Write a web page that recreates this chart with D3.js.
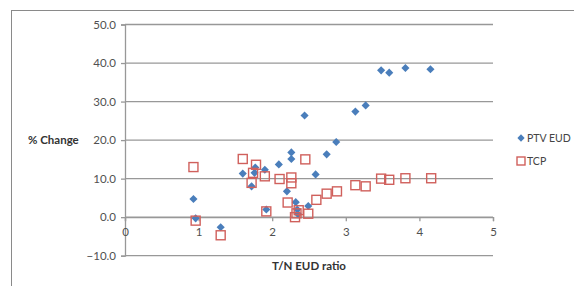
<!DOCTYPE html>
<html>
<head>
<meta charset="utf-8">
<script src="https://cdn.jsdelivr.net/npm/d3@7"></script>
<style>
  body { margin: 0; background: #fff; }
  text { font-family: Lato, "Open Sans", sans-serif; }
</style>
</head>
<body>
<div id="chart"></div>
<script>
// Data
let ptvX = [0.93, 0.96, 1.30, 1.60, 1.72, 1.76, 1.77, 1.90, 1.92, 2.09, 2.20, 2.26, 2.26, 2.32,
  2.34, 2.35, 2.44, 2.49, 2.59, 2.74, 2.87, 3.13, 3.27, 3.48, 3.59, 3.81, 4.15];
let ptvY = [4.7, -0.3, -2.6, 11.3, 8.0, 11.5, 12.9, 12.3, 2.0, 13.7, 6.7, 15.1, 16.8, 3.9,
  2.0, 0.8, 26.4, 2.9, 11.1, 16.3, 19.5, 27.4, 29.0, 38.1, 37.5, 38.7, 38.4];

let tcpX = [0.93, 0.96, 1.30, 1.60, 1.78, 1.74, 1.72, 1.90, 1.92, 2.10, 2.26, 2.26, 2.21, 2.45,
  2.31, 2.33, 2.36, 2.49, 2.60, 2.74, 2.88, 3.13, 3.27, 3.48, 3.59, 3.81, 4.16];
let tcpY = [13.0, -0.9, -4.7, 15.1, 13.6, 11.5, 8.9, 10.6, 1.5, 9.9, 10.3, 8.8, 3.8, 15.0,
  0.0, 1.0, 1.8, 0.9, 4.5, 6.1, 6.7, 8.3, 8.0, 10.0, 9.7, 10.1, 10.1];

let xTicks = [0, 1, 2, 3, 4, 5];
let yTicks = [-10, 0, 10, 20, 30, 40, 50];

let seriesNames = ["PTV EUD", "TCP"];

let svgWidth = 574;
let svgHeight = 286;

let svg = d3.select("#chart")
  .append("svg")
  .attr("width", svgWidth)
  .attr("height", svgHeight);

// outer chart frame (runs past right and bottom edges)
svg.append("rect")
  .attr("x", 11.5)
  .attr("y", 10.5)
  .attr("width", 600)
  .attr("height", 400)
  .attr("fill", "none")
  .attr("stroke", "#8a8a8a");

let xScale = d3.scaleLinear().domain([0, 5]).range([125, 493]);
let yScale = d3.scaleLinear().domain([-10, 50]).range([255.7, 24.5]);

// horizontal gridlines
svg.append("g")
  .selectAll("line")
  .data(yTicks)
  .enter()
  .append("line")
  .attr("x1", xScale(0))
  .attr("x2", xScale(5))
  .attr("y1", d => yScale(d))
  .attr("y2", d => yScale(d))
  .attr("stroke", "#989898")
  .attr("stroke-width", 1.3);

// y axis
let yAxis = svg.append("g")
  .attr("transform", `translate(${xScale(0)},0)`)
  .call(d3.axisLeft(yScale).tickValues(yTicks).tickFormat(d3.format(".1f")).tickSize(4).tickPadding(5));

yAxis.select(".domain").attr("stroke", "#989898").attr("stroke-width", 1.3);
yAxis.selectAll(".tick line").attr("stroke", "#989898").attr("stroke-width", 1.3);
yAxis.selectAll(".tick text")
  .attr("fill", "#505050")
  .attr("font-size", 11.5)
  .style("font-family", "Lato, 'Open Sans', sans-serif");

// x axis sits on y = 0
let xAxis = svg.append("g")
  .attr("transform", `translate(0,${yScale(0)})`)
  .call(d3.axisBottom(xScale).tickValues(xTicks).tickFormat(d3.format("d")).tickSize(4).tickPadding(7));

xAxis.select(".domain").attr("stroke", "#989898").attr("stroke-width", 1.3);
xAxis.selectAll(".tick line").attr("stroke", "#989898").attr("stroke-width", 1.3);
xAxis.selectAll(".tick text")
  .attr("fill", "#505050")
  .attr("font-size", 11.5)
  .style("font-family", "Lato, 'Open Sans', sans-serif");

// axis titles
svg.append("text")
  .attr("x", 28)
  .attr("y", 144)
  .attr("font-size", 11.5)
  .attr("font-weight", "bold")
  .attr("fill", "#333")
  .text("% Change");

svg.append("text")
  .attr("x", 309)
  .attr("y", 270)
  .attr("text-anchor", "middle")
  .attr("font-size", 11.5)
  .attr("font-weight", "bold")
  .attr("fill", "#333")
  .text("T/N EUD ratio");

let ptvData = ptvX.map((x, i) => ({ x: x, y: ptvY[i] }));
let tcpData = tcpX.map((x, i) => ({ x: x, y: tcpY[i] }));

let diamond = d3.symbol().type(d3.symbolDiamond2).size(42);

// PTV EUD diamonds
svg.append("g")
  .selectAll("path")
  .data(ptvData)
  .enter()
  .append("path")
  .attr("d", diamond)
  .attr("transform", d => `translate(${xScale(d.x)},${yScale(d.y)})`)
  .attr("fill", "#4a7ebb");

// TCP squares
let sq = 9;
svg.append("g")
  .selectAll("rect")
  .data(tcpData)
  .enter()
  .append("rect")
  .attr("x", d => xScale(d.x) - sq / 2)
  .attr("y", d => yScale(d.y) - sq / 2)
  .attr("width", sq)
  .attr("height", sq)
  .attr("fill", "none")
  .attr("stroke", "#d0605c")
  .attr("stroke-width", 1.4);

// legend
let legend = svg.append("g");
legend.append("path")
  .attr("d", d3.symbol().type(d3.symbolDiamond2).size(34))
  .attr("transform", "translate(521,138)")
  .attr("fill", "#4a7ebb");
legend.append("rect")
  .attr("x", 517)
  .attr("y", 157)
  .attr("width", 8)
  .attr("height", 8)
  .attr("fill", "none")
  .attr("stroke", "#d0605c")
  .attr("stroke-width", 1.4);

legend.selectAll("text")
  .data(seriesNames)
  .enter()
  .append("text")
  .attr("x", 527)
  .attr("y", (d, i) => 142 + i * 22.5)
  .attr("font-size", 10.5)
  .attr("fill", "#444")
  .text(d => d);
</script>
</body>
</html>
